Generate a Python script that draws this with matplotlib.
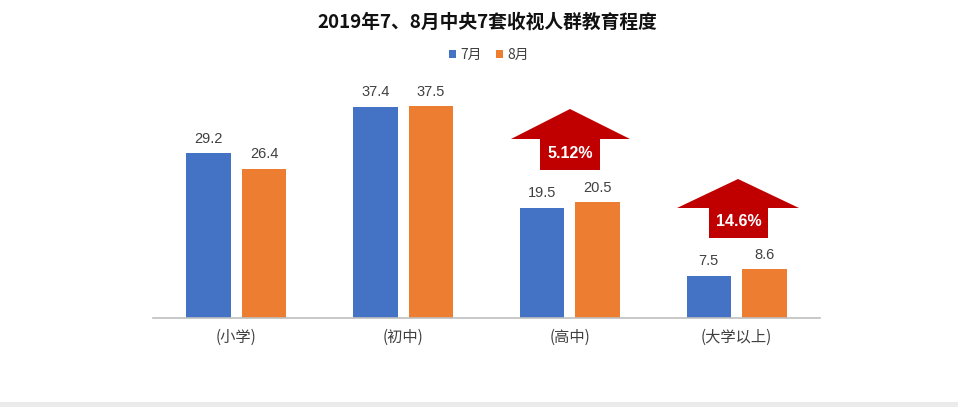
import matplotlib
matplotlib.use("Agg")
import matplotlib.pyplot as plt
from matplotlib.patches import Polygon
from matplotlib import font_manager
import numpy as np

plt.rcParams['font.family'] = ['Noto Sans CJK SC', 'DejaVu Sans']

categories = ['(小学)', '(初中)', '(高中)', '(大学以上)']
july = [29.2, 37.4, 19.5, 7.5]
aug = [26.4, 37.5, 20.5, 8.6]
series_names = ['7月', '8月']
growth_labels = {2: '5.12%', 3: '14.6%'}

names = {f.name for f in font_manager.fontManager.ttflist}
if 'Liberation Sans Narrow' in names:
    arrow_family, arrow_size = ['Liberation Sans Narrow'], 13
else:
    arrow_family, arrow_size = ['Liberation Sans'], 11.5

W, H = 958, 407
fig = plt.figure(figsize=(W/100, H/100), dpi=100)
fig.patch.set_facecolor('white')

ymax = 40
ax_left, ax_right, ax_bottom = 153, 820, 318
ppu = 5.653
ax_top = ax_bottom - ymax * ppu
ax = fig.add_axes([ax_left/W, 1 - ax_bottom/H, (ax_right-ax_left)/W, (ax_bottom-ax_top)/H])

x = np.arange(len(categories))
bw = 0.267
gap = 0.066
blue = '#4472c4'
orange = '#ed7d31'
b1 = ax.bar(x - (bw+gap)/2, july, bw, color=blue, label=series_names[0])
b2 = ax.bar(x + (bw+gap)/2, aug, bw, color=orange, label=series_names[1])
for bars, vals in ((b1, july), (b2, aug)):
    for r, v in zip(bars, vals):
        ax.text(r.get_x()+r.get_width()/2, v + 1.3, f'{v}', ha='center', va='bottom',
                fontsize=10.5, color='#404040', family=['Liberation Sans', 'DejaVu Sans'])

ax.set_xlim(-0.5, len(categories)-0.5)
ax.set_ylim(0, ymax)
ax.set_yticks([])
ax.set_xticks(x)
ax.set_xticklabels(categories, fontsize=11, color='#404040')
ax.tick_params(axis='x', length=0, pad=8)
for s in ['top', 'right', 'left']:
    ax.spines[s].set_visible(False)
ax.spines['bottom'].set_color('#bfbfbf')
ax.spines['bottom'].set_linewidth(1.2)
ax.set_facecolor('none')

# Title
fig.text(487/W, 1 - 22/H, '2019年7、8月中央7套收视人群教育程度', ha='center', va='center',
         fontsize=13.5, fontweight='bold', color='#111111')

# Legend
leg = fig.legend(handles=[b1, b2], labels=series_names, loc='center', bbox_to_anchor=(489/W, 1 - 55/H),
                 ncol=2, frameon=False, fontsize=10, handlelength=0.5, handleheight=0.5,
                 handletextpad=0.3, columnspacing=1.0, labelcolor='#404040')

# Growth arrows (decorative shapes in figure pixel coordinates)
arrows = {2: dict(tip=(570, 109), wing_y=139, wx=(511, 630), sx=(540, 600), bottom=170),
          3: dict(tip=(738, 179), wing_y=208, wx=(677, 799), sx=(709, 768), bottom=238)}
for k, a in arrows.items():
    pts = [a['tip'], (a['wx'][1], a['wing_y']), (a['sx'][1], a['wing_y']), (a['sx'][1], a['bottom']),
           (a['sx'][0], a['bottom']), (a['sx'][0], a['wing_y']), (a['wx'][0], a['wing_y'])]
    pts = [(px/W, 1 - py/H) for px, py in pts]
    fig.add_artist(Polygon(pts, closed=True, transform=fig.transFigure, facecolor='#c00000',
                           edgecolor='none'))
    cx = (a['sx'][0] + a['sx'][1]) / 2
    cy = (a['wing_y'] + a['bottom']) / 2 - 1
    fig.text(cx/W, 1 - cy/H, growth_labels[k], ha='center', va='center', color='white',
             fontsize=arrow_size, fontweight='bold', family=arrow_family + ['DejaVu Sans'])

# Bottom gray band
fig.add_artist(plt.Rectangle((0, 0), 1, 5/H, transform=fig.transFigure, facecolor='#ebebeb',
                             edgecolor='none'))

fig.savefig('out.png', dpi=100)
